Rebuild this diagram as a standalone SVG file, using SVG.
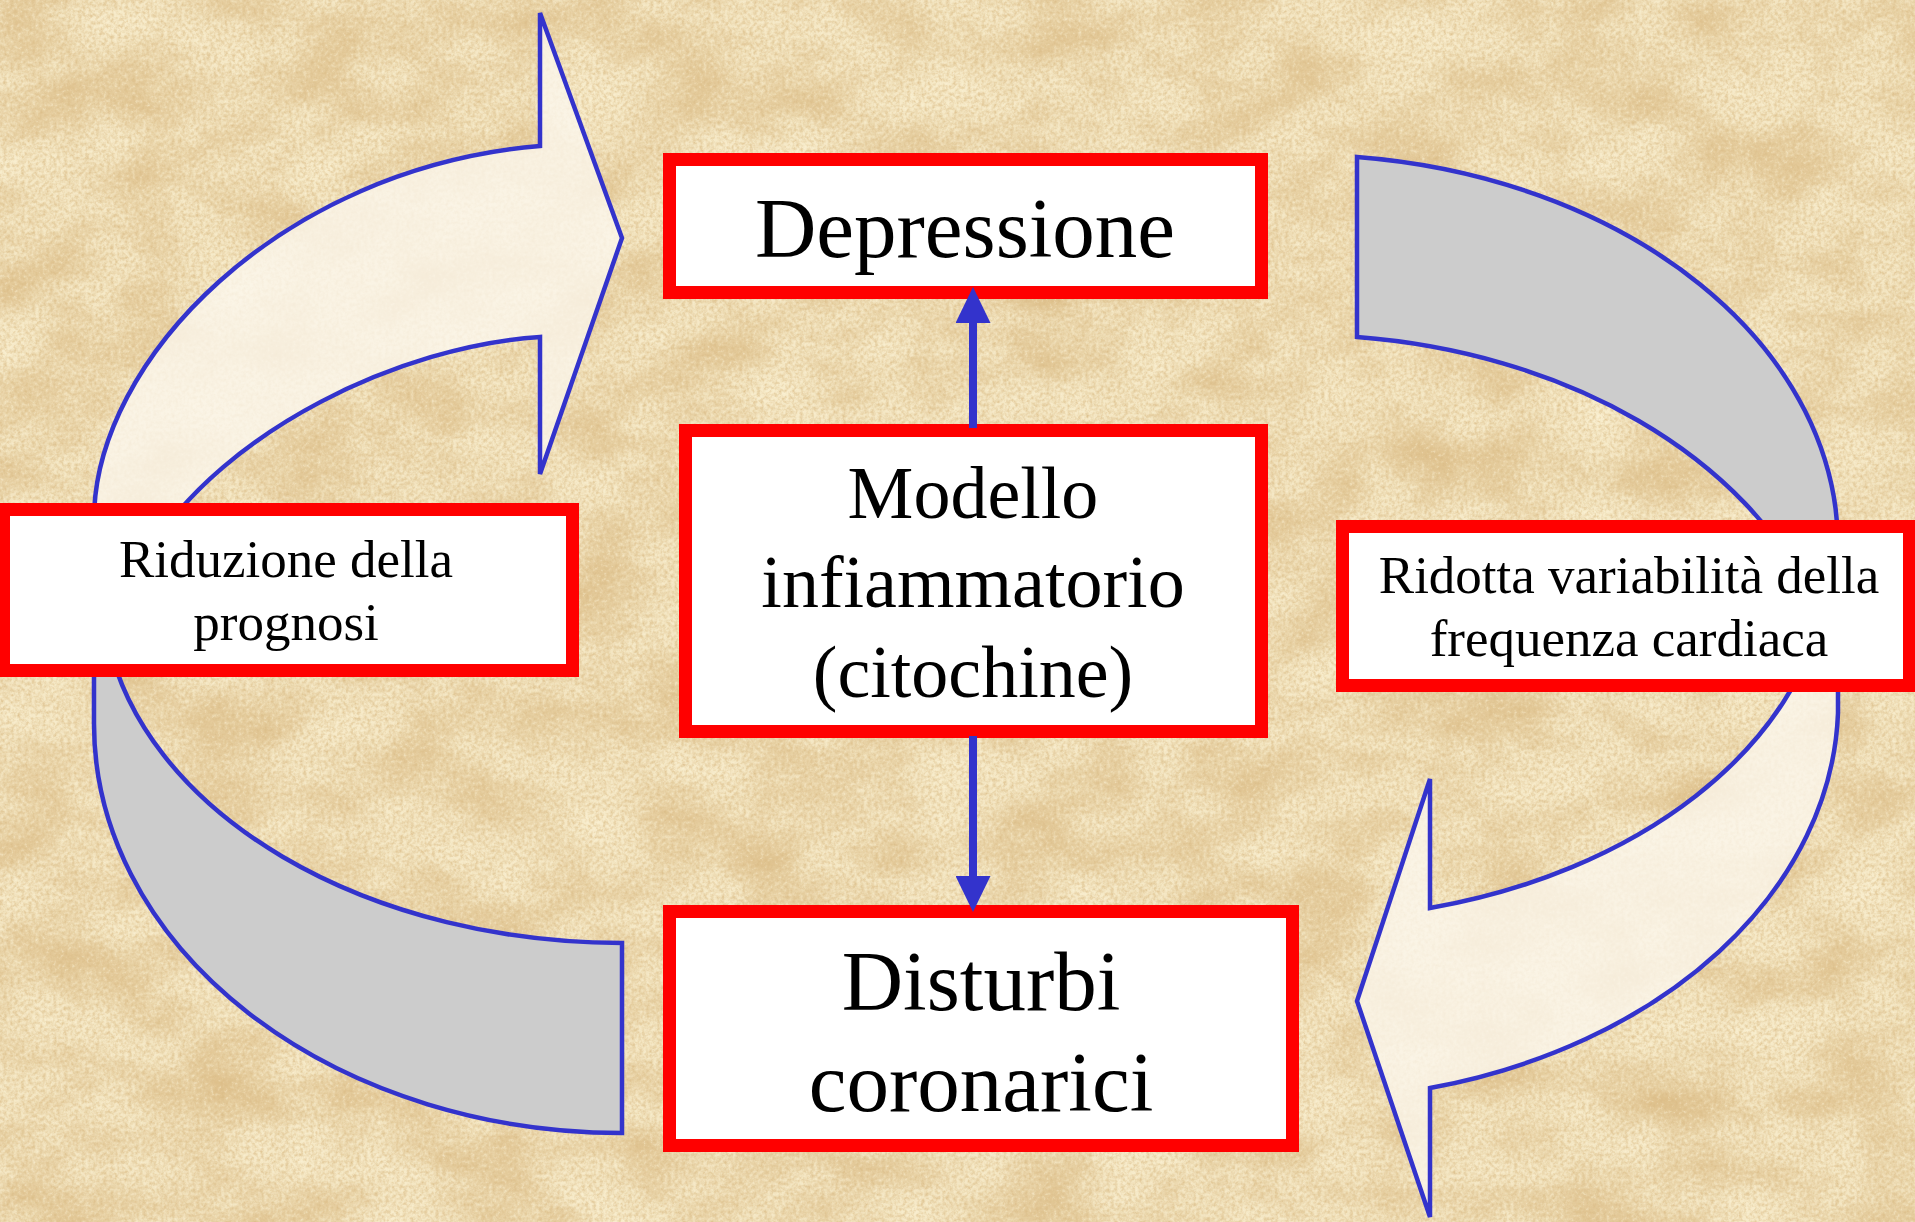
<svg xmlns="http://www.w3.org/2000/svg" width="1915" height="1222" viewBox="0 0 1915 1222">
  <defs>
    <!-- parchment texture: soft mottling plus fine grain -->
    <filter id="paper" x="0" y="0" width="1915" height="1222" filterUnits="userSpaceOnUse" color-interpolation-filters="sRGB">
      <feTurbulence type="fractalNoise" baseFrequency="0.011 0.016" numOctaves="5" seed="11" result="blot"/>
      <feColorMatrix in="blot" type="matrix" values="0 0 0 0 0.84  0 0 0 0 0.70  0 0 0 0 0.47  1.4 0 0 0 -0.62" result="dark"/>
      <feColorMatrix in="blot" type="matrix" values="0 0 0 0 0.98  0 0 0 0 0.94  0 0 0 0 0.82  -1.9 0 0 0 0.95" result="light"/>
      <feTurbulence type="fractalNoise" baseFrequency="0.28" numOctaves="3" seed="4" result="grain"/>
      <feColorMatrix in="grain" type="matrix" values="0 0 0 0 0.85  0 0 0 0 0.73  0 0 0 0 0.52  1.5 0 0 0 -0.60" result="graindark"/>
      <feColorMatrix in="grain" type="matrix" values="0 0 0 0 0.99  0 0 0 0 0.96  0 0 0 0 0.86  -1.6 0 0 0 0.64" result="grainlight"/>
      <feMerge>
        <feMergeNode in="light"/>
        <feMergeNode in="dark"/>
        <feMergeNode in="graindark"/>
        <feMergeNode in="grainlight"/>
      </feMerge>
    </filter>
    <marker id="head" viewBox="0 0 36 35" markerWidth="36" markerHeight="35" refX="0" refY="17.5" orient="auto" markerUnits="userSpaceOnUse">
      <path d="M0,0 L36,17.5 L0,35 Z" fill="#3333cc"/>
    </marker>
  </defs>
  <style>
    .box { fill: #ffffff; stroke: #ff0000; stroke-width: 13; }
    .band { stroke: #3333cc; stroke-width: 4.5; stroke-linejoin: miter; }
    .back { fill: #cccccc; }
    .front { fill: #fbf6ec; fill-opacity: 0.8; }
    .link { stroke: #3333cc; stroke-width: 8; fill: none; }
    .big { font-family: "Liberation Serif", "Times New Roman", serif; font-size: 85px; fill: #000; text-anchor: middle; }
    .mid { font-family: "Liberation Serif", "Times New Roman", serif; font-size: 74px; fill: #000; text-anchor: middle; }
    .small { font-family: "Liberation Serif", "Times New Roman", serif; font-size: 53px; fill: #000; text-anchor: middle; }
  </style>

  <!-- background -->
  <rect x="0" y="0" width="1915" height="1222" fill="#f1e1bb"/>
  <rect x="0" y="0" width="1915" height="1222" filter="url(#paper)"/>

  <!-- circular block arrows around the central column -->
  <g id="loop-arrows">
    <g id="loop-left">
      <path class="band back" d="M622,1133 A528,409 0 0 1 94,724 L94,640 L108,640 A520,355 0 0 0 622,943 Z"/>
      <path class="band front" d="M94,640 L94,520 C94,360 280,168 540,146 L540,13 L622,238 L540,474 L540,337 C400,346 225,430 150,550 L130,640 Z"/>
    </g>
    <g id="loop-right">
      <path class="band back" d="M1357,157 A538,391 0 0 1 1838,546 L1838,600 L1812,600 A540,389 0 0 0 1357,337 Z"/>
      <path class="band front" d="M1838,600 L1838,713 A538,398 0 0 1 1430,1088 L1430,1217 L1357,1001 L1430,779 L1430,908 A530,367 0 0 0 1825,600 Z"/>
    </g>
  </g>

  <!-- nodes -->
  <g id="node-depressione">
    <rect class="box" x="669.5" y="159.5" width="592" height="133"/>
    <text class="big" x="965" y="257">Depressione</text>
  </g>
  <g id="node-modello">
    <rect class="box" x="685.5" y="430.5" width="576" height="301"/>
    <text class="mid" x="973" y="518">Modello</text>
    <text class="mid" x="973" y="607">infiammatorio</text>
    <text class="mid" x="973" y="697">(citochine)</text>
  </g>
  <g id="node-disturbi">
    <rect class="box" x="669.5" y="911.5" width="623" height="234"/>
    <text class="big" x="981" y="1010">Disturbi</text>
    <text class="big" x="981" y="1111">coronarici</text>
  </g>
  <g id="node-riduzione">
    <rect class="box" x="3.5" y="509.5" width="569" height="161"/>
    <text class="small" x="286" y="577">Riduzione della</text>
    <text class="small" x="286" y="640">prognosi</text>
  </g>
  <g id="node-ridotta">
    <rect class="box" x="1342.5" y="526.5" width="567" height="159"/>
    <text class="small" x="1629" y="593">Ridotta variabilità della</text>
    <text class="small" x="1629" y="656">frequenza cardiaca</text>
  </g>

  <!-- connectors -->
  <g id="connectors">
    <line class="link" x1="973" y1="428" x2="973" y2="323" marker-end="url(#head)"/>
    <line class="link" x1="973" y1="736" x2="973" y2="876" marker-end="url(#head)"/>
  </g>
</svg>
